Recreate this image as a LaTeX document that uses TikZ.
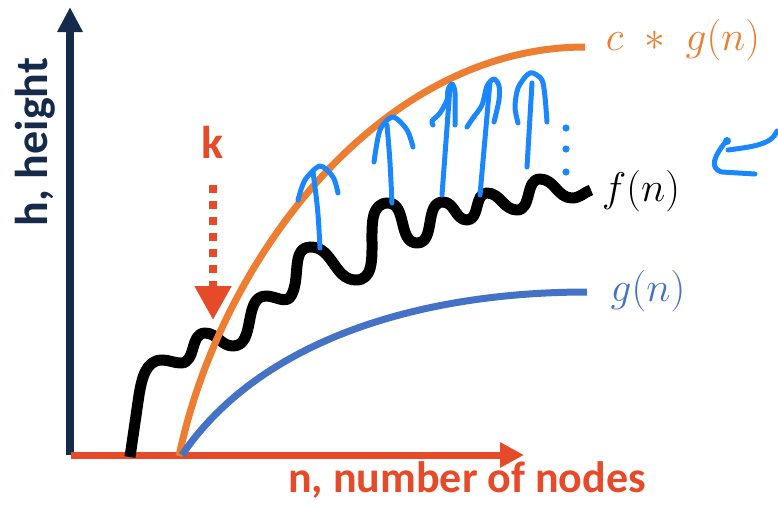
\documentclass[tikz,border=0pt]{standalone}
\usepackage{fontspec}
\newfontfamily\calib{Carlito}
\usetikzlibrary{arrows.meta}
\definecolor{navy}{RGB}{22,42,75}
\definecolor{redorange}{RGB}{230,74,40}
\definecolor{cgorange}{RGB}{237,125,49}
\definecolor{gblue}{RGB}{68,114,196}
\definecolor{penblue}{RGB}{26,135,255}
\tikzset{
  yaxis/.style={draw=navy,line width=4pt,-{Triangle[length=12.5pt,width=12pt]}},
  xaxis/.style={draw=redorange,line width=3.5pt,-{Triangle[length=12pt,width=12pt]}},
  kdash/.style={draw=redorange,line width=4pt,dash pattern=on 4pt off 4pt,-{Triangle[length=17pt,width=17.5pt]}},
  fcurve/.style={line width=5.5pt,line join=round},
  cgcurve/.style={draw=cgorange,line width=3.5pt},
  gcurve/.style={draw=gblue,line width=3.5pt},
  pen/.style={draw=penblue,line width=2.5pt,line cap=round,line join=round},
  boldlab/.style={font=\calib\bfseries\fontsize{23}{27}\selectfont,inner sep=0pt,anchor=base},
  mathlab/.style={inner sep=0pt,anchor=base}
}

\begin{document}
\begin{tikzpicture}[x=0.5pt,y=-0.5pt]
    \useasboundingbox (0,0) rectangle (778,505);
    % axes
    \coordinate (O) at (70,455);
    \coordinate (ytip) at (70,7);
    \coordinate (xstart) at (71,455);
    \coordinate (xtip) at (524,455);
    \draw[yaxis] (O)--(ytip);
    \draw[xaxis] (xstart)--(xtip);
    \node[boldlab,text=navy,rotate=90] (hlab) at (47,142) {h, height};
    \node[boldlab,text=redorange,font=\calib\bfseries\fontsize{22}{26}\selectfont] (nlab) at (467,492) {n, number of nodes};
    % k marker
    \node[boldlab,text=redorange] (k) at (213,158) {k};
    \coordinate (kstart) at (213,185);
    \coordinate (ktip) at (213,320);
    \draw[kdash] (kstart)--(ktip);
    % f(n), the wiggly one
    \draw[fcurve] (130,457) -- (139,395) to[out=80,in=180] (162,360)
      to[out=0,in=180] (181,363) to[out=0,in=180] (205,333) to[out=0,in=180] (233,346)
      to[out=0,in=180] (266,296) to[out=0,in=-120] (291,296) to[out=60,in=180] (311,247)
      to[out=0,in=180] (356,280) to[out=0,in=180] (388,203) to[out=0,in=180] (417,243)
      to[out=0,in=180] (443,202) to[out=0,in=180] (467,220) to[out=0,in=180] (487,193)
      to[out=0,in=180] (517,210) to[out=0,in=180] (540,179) to[out=0,in=180] (572,198)
      to[out=0,in=200] (591,190);
    % c*g(n) and g(n)
    \draw[cgcurve] (179,456) .. controls (220,260) and (380,47) .. (585,47);
    \draw[gcurve] (182,455) .. controls (260,340) and (420,292) .. (587,292);
    \node[mathlab,text=cgorange,font=\fontsize{20}{24}\selectfont] (cglab) at (683,50) {$c\;*\;g(n)$};
    \node[mathlab,font=\fontsize{22}{26}\selectfont] (flab) at (641,201) {$f(n)$};
    \node[mathlab,text=gblue,font=\fontsize{22}{26}\selectfont] (glab) at (648,301) {$g(n)$};
    % hand drawn arrows
    \draw[pen] (320,248) .. controls (318,210) .. (313,172);
    \draw[pen] plot[smooth] coordinates {(298,200) (305,180) (320,166) (333,177) (338,193)};
    \draw[pen] (392,203) .. controls (390,160) .. (387,125);
    \draw[pen] plot[smooth] coordinates {(374,162) (380,130) (393,117) (407,130) (413,147)};
    \draw[pen] (442,195)--(450,87);
    \draw[pen] plot[smooth] coordinates {(433,125) (432,121) (440,113) (447,100) (448,90) (452,84) (455,93) (455,125)};
    \draw[pen] (480,195)--(490,82);
    \draw[pen] plot[smooth] coordinates {(467,127) (473,118) (482,105) (487,86) (494,79) (499,86) (499,100) (494,122)};
    \draw[pen] (527,167)--(532,83);
    \draw[pen] plot[smooth] coordinates {(518,123) (515,107) (518,88) (527,75) (533,73) (542,80) (545,97) (547,122)};
    \foreach \y in {128,149,172} \fill[penblue] (566,\y) circle (1.8pt);
    \draw[pen] (777,131) .. controls (772,145) and (750,147) .. (728,150);
    \draw[pen] (727,140) .. controls (715,155) and (708,168) .. (722,172) -- (755,174);
    \fill[penblue] (727,141) circle (2pt);
  \end{tikzpicture}
\end{document}
